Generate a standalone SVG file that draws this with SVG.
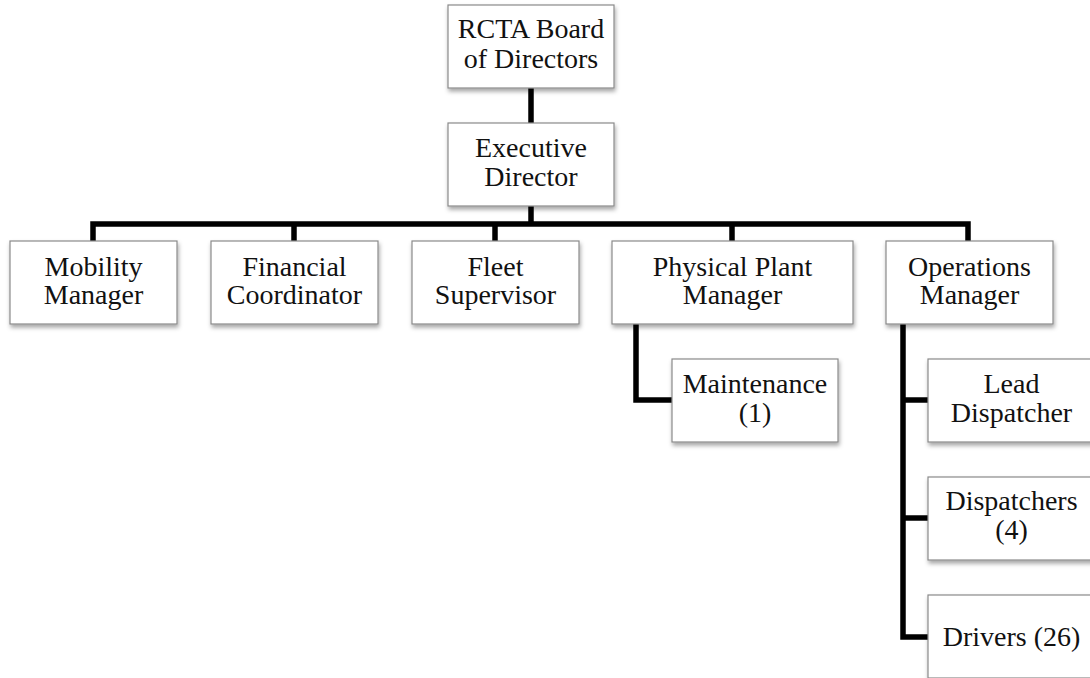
<svg xmlns="http://www.w3.org/2000/svg" width="1090" height="678" viewBox="0 0 1090 678">
  <defs>
    <filter id="shadow" x="-10%" y="-10%" width="130%" height="140%">
      <feDropShadow dx="1" dy="3" stdDeviation="2" flood-color="#000" flood-opacity="0.35"/>
    </filter>
  </defs>
  <style>
    .box { fill: #ffffff; stroke: #8a8a8a; stroke-width: 1.2; filter: url(#shadow); }
    .lbl { font-family: "Liberation Serif", "Times New Roman", serif; font-size: 28px; fill: #111111; text-anchor: middle; }
    .wire { fill: none; stroke: #000000; stroke-width: 5.5; stroke-linejoin: miter; stroke-linecap: butt; }
  </style>

  <rect width="1090" height="678" fill="#ffffff"/>

  <!-- connectors -->
  <g id="connectors">
    <path class="wire" d="M531,88 V123"/>
    <path class="wire" d="M531,206 V224"/>
    <path class="wire" d="M93,242 V224 H968 V242"/>
    <path class="wire" d="M294,224 V242"/>
    <path class="wire" d="M495,224 V242"/>
    <path class="wire" d="M732,224 V242"/>
    <path class="wire" d="M636,324 V400 H673"/>
    <path class="wire" d="M903,324 V637 H929"/>
    <path class="wire" d="M903,400 H929"/>
    <path class="wire" d="M903,518 H929"/>
  </g>

  <!-- top level -->
  <g id="board">
    <rect class="box" x="448" y="5" width="166" height="83"/>
    <text class="lbl" x="531" y="38">RCTA Board</text>
    <text class="lbl" x="531" y="68">of Directors</text>
  </g>
  <g id="executive">
    <rect class="box" x="448" y="123" width="166" height="83"/>
    <text class="lbl" x="531" y="157">Executive</text>
    <text class="lbl" x="531" y="186">Director</text>
  </g>

  <!-- second level -->
  <g id="mobility">
    <rect class="box" x="10" y="241" width="167" height="83"/>
    <text class="lbl" x="93.5" y="276">Mobility</text>
    <text class="lbl" x="93.5" y="304">Manager</text>
  </g>
  <g id="financial">
    <rect class="box" x="211" y="241" width="167" height="83"/>
    <text class="lbl" x="294.5" y="276">Financial</text>
    <text class="lbl" x="294.5" y="304">Coordinator</text>
  </g>
  <g id="fleet">
    <rect class="box" x="412" y="241" width="167" height="83"/>
    <text class="lbl" x="495.5" y="276">Fleet</text>
    <text class="lbl" x="495.5" y="304">Supervisor</text>
  </g>
  <g id="plant">
    <rect class="box" x="612" y="241" width="241" height="83"/>
    <text class="lbl" x="732.5" y="276">Physical Plant</text>
    <text class="lbl" x="732.5" y="304">Manager</text>
  </g>
  <g id="operations">
    <rect class="box" x="886" y="241" width="167" height="83"/>
    <text class="lbl" x="969.5" y="276">Operations</text>
    <text class="lbl" x="969.5" y="304">Manager</text>
  </g>

  <!-- third level -->
  <g id="maintenance">
    <rect class="box" x="672" y="359" width="166" height="83"/>
    <text class="lbl" x="755" y="393">Maintenance</text>
    <text class="lbl" x="755" y="422">(1)</text>
  </g>
  <g id="lead-dispatcher">
    <rect class="box" x="928" y="359" width="167" height="83"/>
    <text class="lbl" x="1011.5" y="393">Lead</text>
    <text class="lbl" x="1011.5" y="422">Dispatcher</text>
  </g>
  <g id="dispatchers">
    <rect class="box" x="928" y="477" width="167" height="83"/>
    <text class="lbl" x="1011.5" y="510">Dispatchers</text>
    <text class="lbl" x="1011.5" y="539">(4)</text>
  </g>
  <g id="drivers">
    <rect class="box" x="928" y="595" width="167" height="83"/>
    <text class="lbl" x="1011.5" y="646">Drivers (26)</text>
  </g>
</svg>
